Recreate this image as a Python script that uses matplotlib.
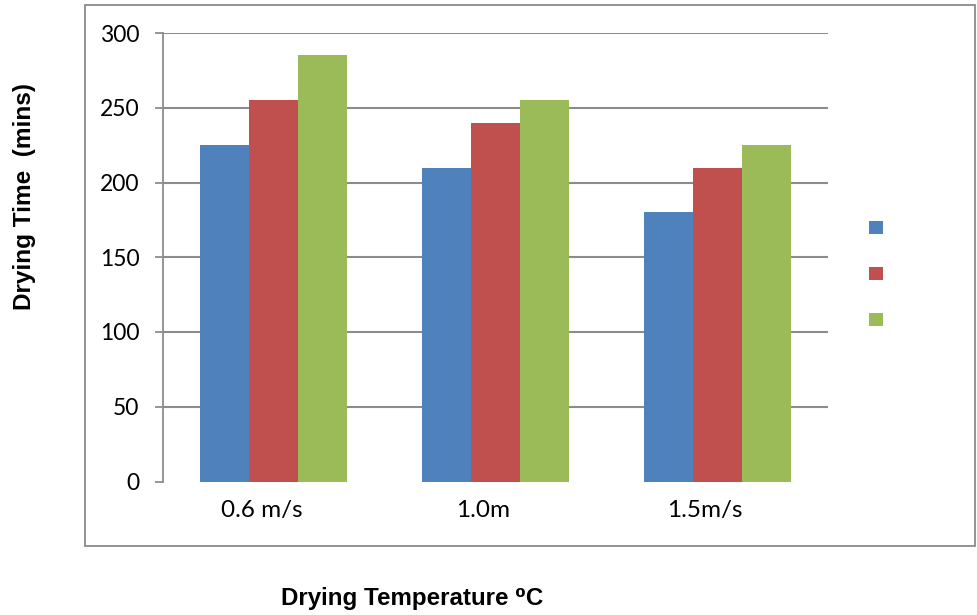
import matplotlib.pyplot as plt
import matplotlib.transforms as mtransforms
import numpy as np
from matplotlib.patches import Patch, Rectangle

# air velocity groups and drying times (mins) for each series
categories = ["0.6 m/s", "1.0m", "1.5m/s"]
series_a = [225, 210, 180]
series_b = [255, 240, 210]
series_c = [285, 255, 225]
y_ticks = [0, 50, 100, 150, 200, 250, 300]

COLORS = ["#4F81BD", "#C0504D", "#9BBB59"]
GRID = "#8C8C8C"
TICK_FONT = ["Lato", "DejaVu Sans"]
TITLE_FONT = ["Liberation Sans Narrow", "Liberation Sans", "DejaVu Sans"]


def main():
    fig = plt.figure(figsize=(9.77, 6.15), dpi=100)
    W, H = 977, 615

    # outer chart-area border
    fig.patches.append(Rectangle((85 / W, 1 - 546 / H), 890 / W, 541 / H,
                                 transform=fig.transFigure, fill=False,
                                 edgecolor="#8A8A8A", linewidth=1.3))

    ax = fig.add_axes([163 / W, 1 - 481.5 / H, 665 / W, 448.5 / H])

    x = np.arange(len(categories))
    width = 0.221
    for i, vals in enumerate([series_a, series_b, series_c]):
        ax.bar(x + (i - 1) * width, vals, width, color=COLORS[i],
               linewidth=0, zorder=3)

    ax.set_xlim(-0.5, len(categories) - 0.5)
    ax.set_ylim(0, 300)
    ax.set_yticks(y_ticks)
    ax.set_yticklabels([str(t) for t in y_ticks], family=TICK_FONT, fontsize=16.5)
    ax.set_xticks(x)
    ax.set_xticklabels(categories, family=TICK_FONT, fontsize=17.5)
    ax.tick_params(axis="x", length=0, pad=13)
    ax.tick_params(axis="y", length=6, width=1.3, color=GRID, pad=11)

    # category labels sit slightly left of the group centres
    shift = mtransforms.ScaledTranslation(-12 / 100, 0, fig.dpi_scale_trans)
    for lbl in ax.get_xticklabels():
        lbl.set_transform(lbl.get_transform() + shift)

    for t in y_ticks[1:]:
        ax.axhline(t, color=GRID, linewidth=1.5, zorder=1)

    for side in ("top", "right", "bottom"):
        ax.spines[side].set_visible(False)
    ax.spines["left"].set_color(GRID)
    ax.spines["left"].set_linewidth(1.3)

    handles = [Patch(facecolor=c, edgecolor="none") for c in COLORS]
    fig.legend(handles, ["", "", ""], loc="center left",
               bbox_to_anchor=(860 / W, 1 - 275 / H), frameon=False,
               fontsize=13, handlelength=0.75, handleheight=0.75,
               labelspacing=1.55, handletextpad=0.2, borderpad=0)

    fig.text(25 / W, 1 - 197 / H, "Drying Time  (mins)", rotation=90,
             ha="center", va="center", family=TITLE_FONT,
             fontsize=17.6, fontweight="bold")
    fig.text(412 / W, 1 - 599 / H, "Drying Temperature \u2070C",
             ha="center", va="center", family=TITLE_FONT,
             fontsize=17.4, fontweight="bold")

    fig.savefig("out.png", dpi=100)
    plt.close(fig)


if __name__ == "__main__":
    main()
